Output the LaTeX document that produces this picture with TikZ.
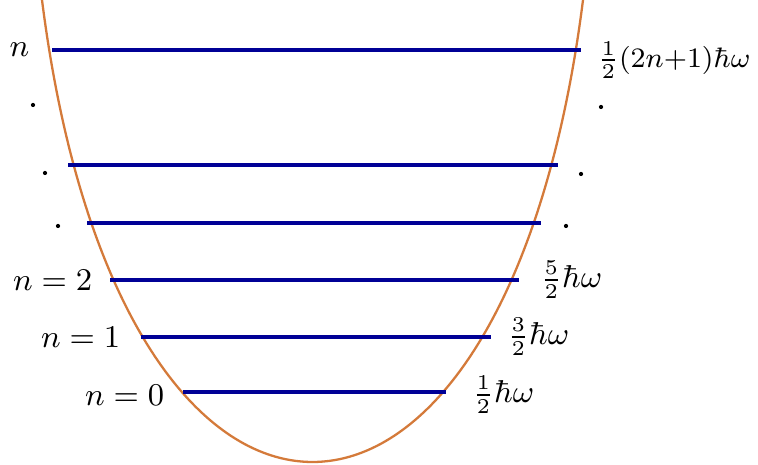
\documentclass[tikz,border=0pt]{standalone}
\usetikzlibrary{positioning}
\definecolor{wellorange}{RGB}{212,122,58}
\definecolor{levelblue}{RGB}{0,0,150}

\begin{document}
\begin{tikzpicture}[
    x=0.01cm, y=-0.01cm,
    well/.style={
        draw=wellorange,
        line width=0.65pt
    },
    level/.style={
        draw=levelblue,
        line width=0.95pt
    },
    lbl/.style={
        inner sep=0pt,
        font=\small
    },
    vdot/.style={
        fill=black
    }
]
    \useasboundingbox (0,0) rectangle (758,465);

    % Potential well
    \draw[well] (42,0) .. controls (120,616) and (505,616) .. (583,0);

    % Energy levels
    \foreach \name/\xa/\xb/\y in {top/52/581/50, cc/68/558/165, bb/87/541/223, two/110/519/280, one/141/491/337, zero/183/446/392} {
        \coordinate (\name L) at (\xa,\y);
        \coordinate (\name R) at (\xb,\y);
        \draw[level] (\name L) -- (\name R);
    }

    % Left labels
    \node[lbl, left=0.22cm of topL] (ntop) {$n$};
    \node[lbl, left=0.17cm of twoL] (ntwo) {$n=2$};
    \node[lbl, left=0.20cm of oneL] (none) {$n=1$};
    \node[lbl, left=0.18cm of zeroL, yshift=-0.03cm] (nzero) {$n=0$};

    % Right labels
    \node[lbl, font=\footnotesize, right=0.16cm of topR, yshift=-0.1cm] (etop) {$\frac{1}{2}(2n{+}1)\hbar\omega$};
    \node[lbl, right=0.21cm of twoR] (etwo) {$\frac{5}{2}\hbar\omega$};
    \node[lbl, right=0.16cm of oneR] (eone) {$\frac{3}{2}\hbar\omega$};
    \node[lbl, right=0.26cm of zeroR, yshift=-0.03cm] (ezero) {$\frac{1}{2}\hbar\omega$};

    % Dots
    \foreach \x/\y in {33/105, 45/173, 58/226, 601/107, 581/174, 566/226}
        \fill[vdot] (\x,\y) circle (0.6pt);

\end{tikzpicture}
\end{document}
